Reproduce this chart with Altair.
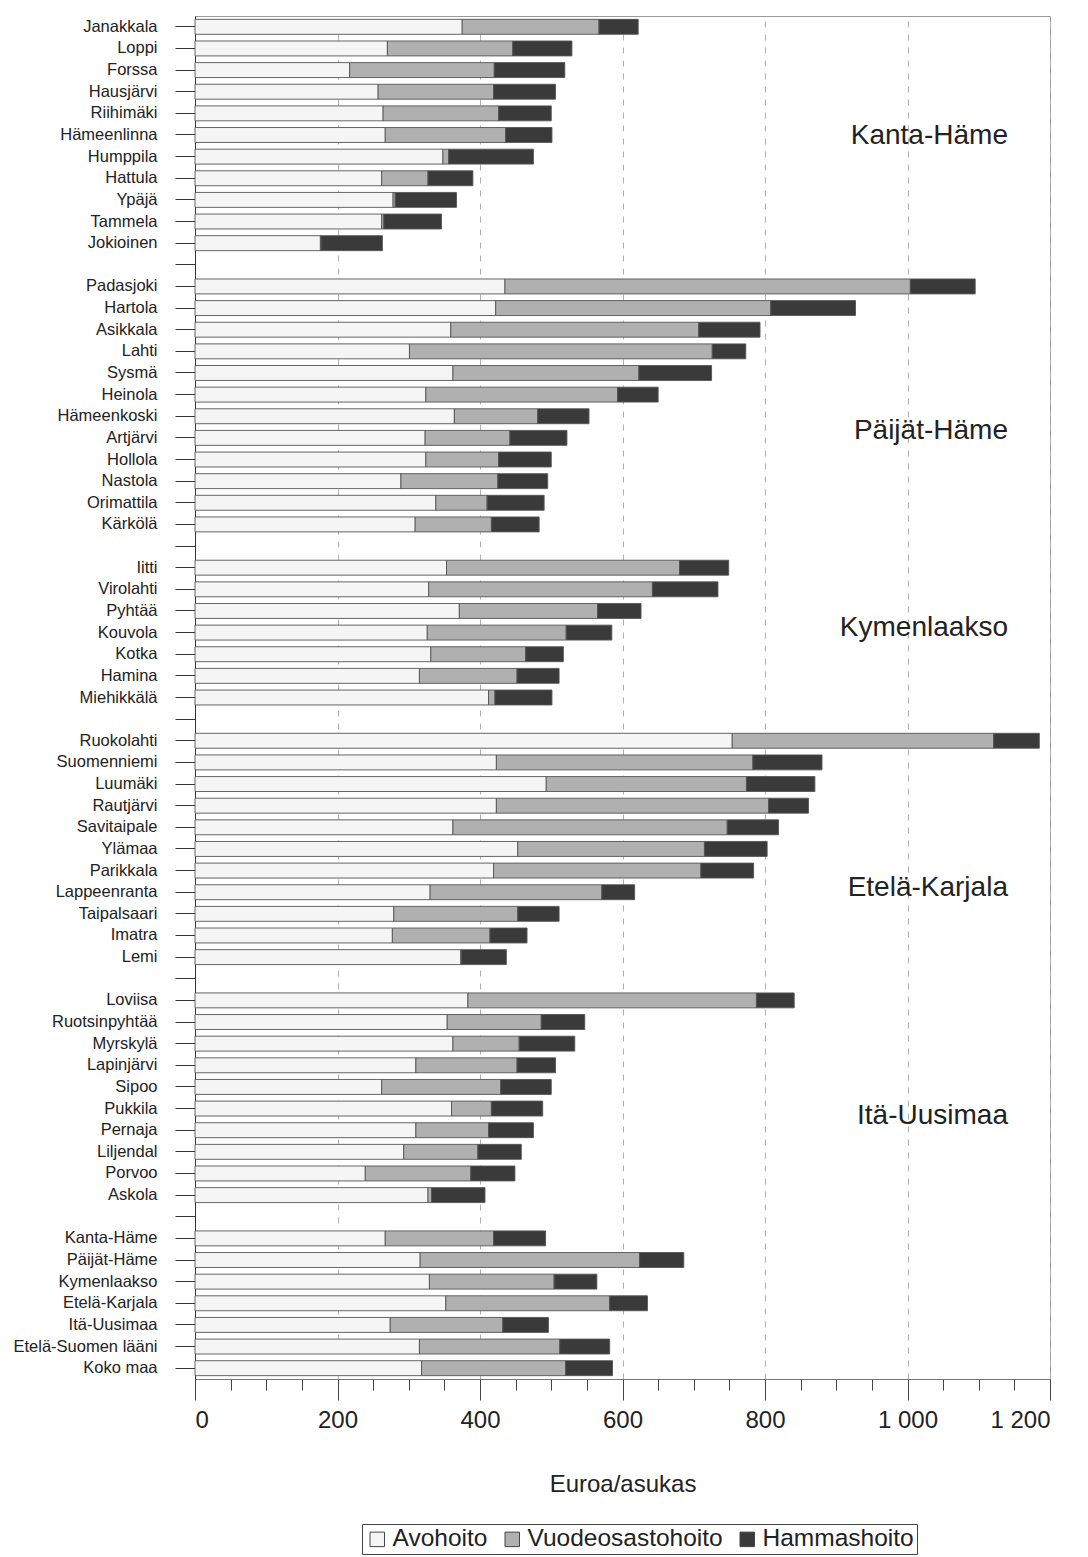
import altair as alt
import pandas as pd

# ---------------- data ----------------
categories = ["Avohoito", "Vuodeosastohoito", "Hammashoito"]

kanta_names = ["Janakkala", "Loppi", "Forssa", "Hausjärvi", "Riihimäki", "Hämeenlinna",
               "Humppila", "Hattula", "Ypäjä", "Tammela", "Jokioinen"]
kanta_avo = [375, 270, 217, 257, 264, 267, 348, 262, 278, 262, 176]
kanta_vuo = [192, 176, 203, 162, 162, 169, 8, 65, 3, 3, 1]
kanta_ham = [55, 83, 99, 87, 74, 65, 119, 63, 86, 81, 86]

paijat_names = ["Padasjoki", "Hartola", "Asikkala", "Lahti", "Sysmä", "Heinola",
                "Hämeenkoski", "Artjärvi", "Hollola", "Nastola", "Orimattila", "Kärkölä"]
paijat_avo = [435, 422, 359, 301, 362, 324, 364, 323, 324, 289, 338, 309]
paijat_vuo = [569, 386, 348, 425, 261, 269, 117, 119, 102, 136, 72, 107]
paijat_ham = [91, 119, 86, 47, 102, 57, 72, 80, 74, 70, 80, 67]

kymen_names = ["Iitti", "Virolahti", "Pyhtää", "Kouvola", "Kotka", "Hamina", "Miehikkälä"]
kymen_avo = [353, 328, 371, 326, 331, 315, 412]
kymen_vuo = [327, 314, 194, 195, 133, 137, 9]
kymen_ham = [69, 92, 61, 64, 53, 59, 80]

karjala_names = ["Ruokolahti", "Suomenniemi", "Luumäki", "Rautjärvi", "Savitaipale", "Ylämaa",
                 "Parikkala", "Lappeenranta", "Taipalsaari", "Imatra", "Lemi"]
karjala_avo = [754, 423, 493, 423, 362, 453, 419, 330, 279, 277, 373]
karjala_vuo = [367, 360, 281, 382, 385, 262, 291, 241, 174, 137, 1]
karjala_ham = [64, 97, 96, 56, 72, 88, 74, 46, 58, 52, 63]

uusimaa_names = ["Loviisa", "Ruotsinpyhtää", "Myrskylä", "Lapinjärvi", "Sipoo", "Pukkila",
                 "Pernaja", "Liljendal", "Porvoo", "Askola"]
uusimaa_avo = [383, 354, 362, 310, 262, 360, 310, 293, 239, 327]
uusimaa_vuo = [405, 132, 93, 142, 167, 56, 102, 104, 148, 5]
uusimaa_ham = [53, 61, 78, 54, 71, 72, 63, 61, 62, 75]

summary_names = ["Kanta-Häme", "Päijät-Häme", "Kymenlaakso", "Etelä-Karjala", "Itä-Uusimaa",
                 "Etelä-Suomen lääni", "Koko maa"]
summary_avo = [267, 316, 329, 352, 274, 315, 318]
summary_vuo = [152, 308, 175, 230, 158, 197, 202]
summary_ham = [73, 62, 60, 53, 64, 70, 66]

region_labels = ["Kanta-Häme", "Päijät-Häme", "Kymenlaakso", "Etelä-Karjala", "Itä-Uusimaa"]
region_anchor_rows = ["Hämeenlinna", "Artjärvi", "Kouvola", "Lappeenranta", "Pukkila"]
region_dy = [1, -7, -5, -4, 7]
region_x = 1141

x_major = [0, 200, 400, 600, 800, 1000, 1200]
x_minor = list(range(0, 1201, 50))

# ---------------- build table ----------------
groups = [
    (kanta_names, kanta_avo, kanta_vuo, kanta_ham),
    (paijat_names, paijat_avo, paijat_vuo, paijat_ham),
    (kymen_names, kymen_avo, kymen_vuo, kymen_ham),
    (karjala_names, karjala_avo, karjala_vuo, karjala_ham),
    (uusimaa_names, uusimaa_avo, uusimaa_vuo, uusimaa_ham),
    (summary_names, summary_avo, summary_vuo, summary_ham),
]

row_order = []
records = []
for gi, (names, avo, vuo, ham) in enumerate(groups):
    if gi > 0:
        row_order.append(f"_tyhjä{gi}")
    for n, a, v, h in zip(names, avo, vuo, ham):
        row_order.append(n)
        for k, (cat, val) in enumerate(zip(categories, (a, v, h))):
            records.append({"rivi": n, "luokka": cat, "arvo": val, "jarj": k})
df = pd.DataFrame(records)

FONT = "Liberation Sans"
colors = ["#f5f5f5", "#b0b0b0", "#3a3a3a"]

y_scale = alt.Scale(domain=row_order, paddingInner=0.31, paddingOuter=0.155)
x_scale = alt.Scale(domain=[0, 1200], nice=False)
y_axis = alt.Axis(title=None,
                  labelExpr="indexof(datum.label, '_') == 0 ? '' : datum.label",
                  labelFont=FONT, labelFontSize=16.5, labelColor="#222222",
                  labelPadding=18, tickSize=20, tickColor="#333333",
                  domainColor="#333333", grid=False, labelLimit=300)

bars = alt.Chart(df).mark_bar(stroke="#555555", strokeWidth=0.9).encode(
    y=alt.Y("rivi:N", scale=y_scale, axis=y_axis),
    x=alt.X("arvo:Q", stack="zero", scale=x_scale,
            axis=alt.Axis(orient="bottom", values=x_major, title="Euroa/asukas",
                          labelExpr="replace(format(datum.value, ','), ',', ' ')",
                          labelFont=FONT, labelFontSize=24, labelColor="#222222",
                          labelPadding=8, tickSize=21, tickColor="#444444",
                          domainColor="#777777",
                          titleFont=FONT, titleFontSize=24, titleFontWeight="normal",
                          titleColor="#222222", titlePadding=40,
                          grid=True, gridDash=[6, 7], gridColor="#b0b0b0", gridWidth=1)),
    color=alt.Color("luokka:N", scale=alt.Scale(domain=categories, range=colors),
                    legend=alt.Legend(title=None, orient="none", legendX=167, legendY=1508,
                                      direction="horizontal", symbolType="square",
                                      symbolSize=210, symbolStrokeColor="#444444",
                                      symbolStrokeWidth=1, symbolOpacity=1,
                                      labelFont=FONT, labelFontSize=24.5, labelColor="#222222",
                                      labelOffset=3, columnPadding=12, labelLimit=400,
                                      strokeColor="#444444", padding=3)),
    order=alt.Order("jarj:Q"),
)

layers = [bars]
for i, (lab, anchor, dy) in enumerate(zip(region_labels, region_anchor_rows, region_dy)):
    ldf = pd.DataFrame({"rivi": [anchor], "x": [region_x], "teksti": [lab]})
    t = alt.Chart(ldf).mark_text(align="right", baseline="middle", dy=dy, font=FONT,
                                 fontSize=28, color="#222222")
    if i == 0:
        xenc = alt.X("x:Q", scale=x_scale,
                     axis=alt.Axis(orient="bottom", values=x_minor, labels=False, title=None,
                                   domain=False, grid=False, tickSize=11, tickColor="#444444"))
    else:
        xenc = alt.X("x:Q", scale=x_scale, axis=None)
    t = t.encode(
        y=alt.Y("rivi:N", scale=y_scale, axis=y_axis),
        x=xenc,
        text="teksti:N",
    )
    layers.append(t)

chart = alt.layer(*layers).resolve_axis(x="independent").properties(
    width=855, height=1363,
    autosize=alt.AutoSizeParams(type="none"),
    padding={"left": 187, "top": 8, "right": 30, "bottom": 178},
).configure_view(stroke="#9a9a9a", strokeWidth=1)

chart.save("out.html", embed_options={"renderer": "svg", "actions": False})
